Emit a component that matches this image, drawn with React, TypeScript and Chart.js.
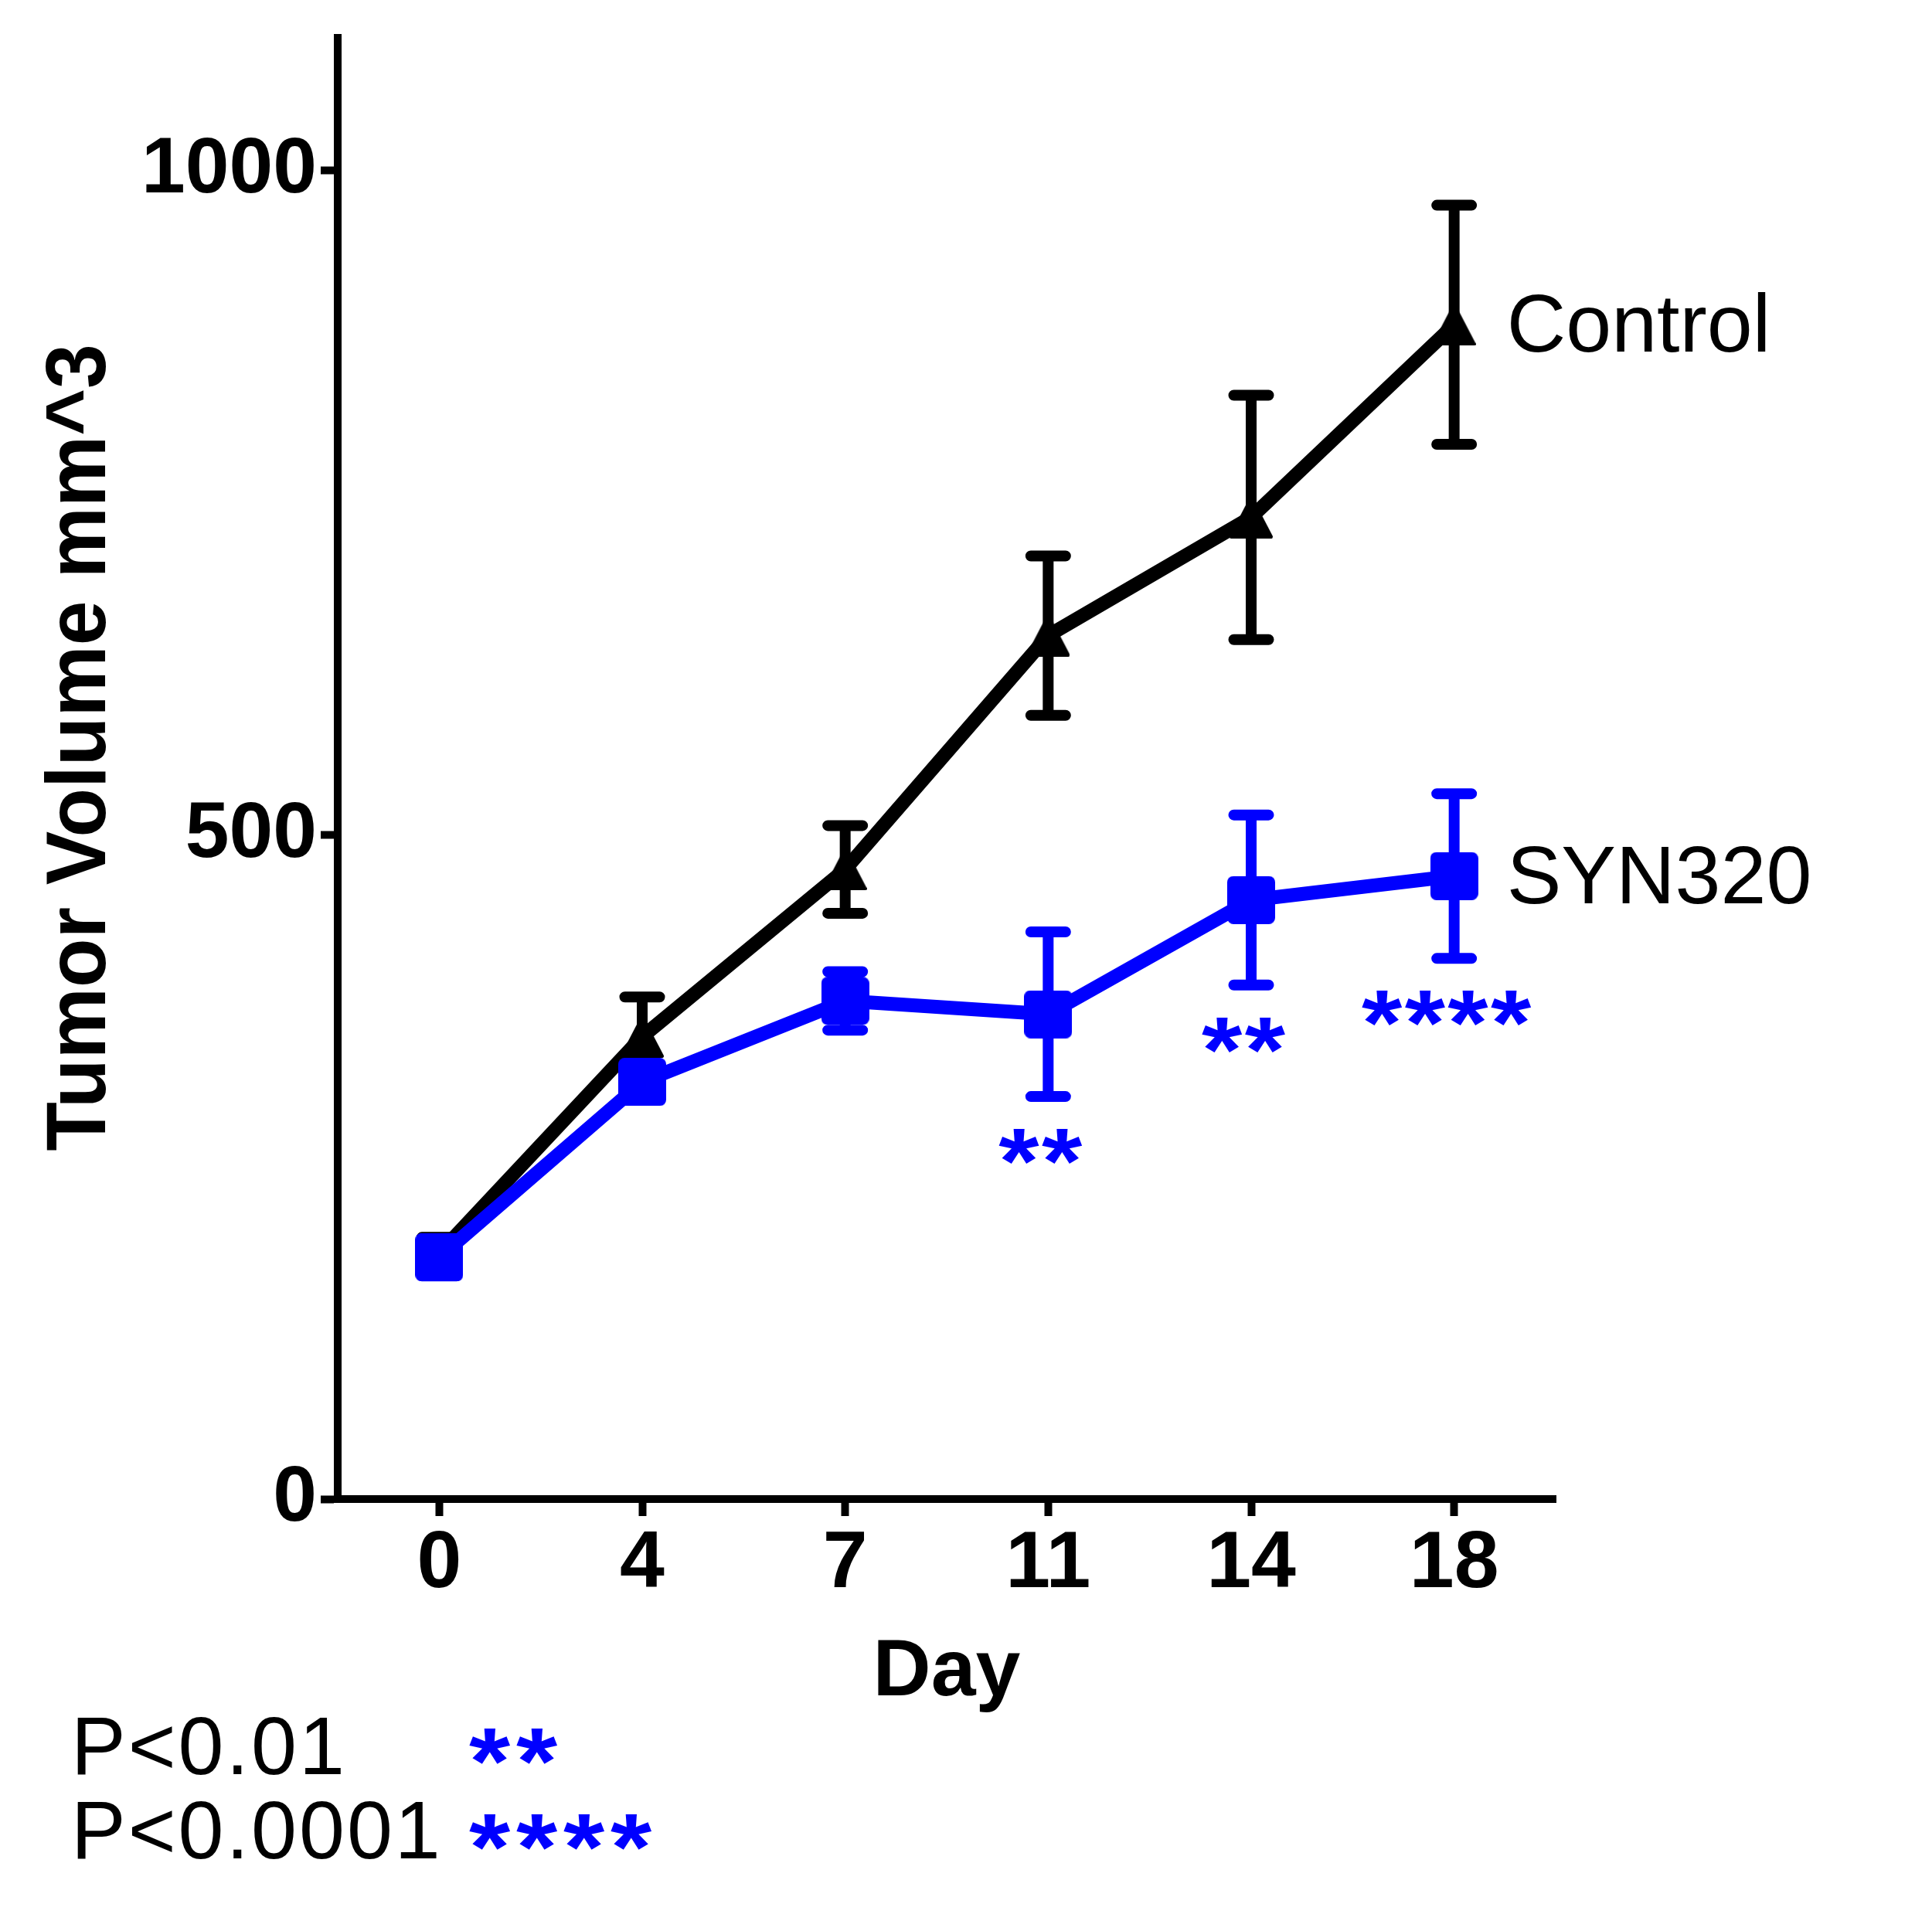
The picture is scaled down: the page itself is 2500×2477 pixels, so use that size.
import React, { useEffect, useRef } from 'react';
import { Chart, registerables } from 'chart.js';

Chart.register(...registerables);

// ---------------- data ----------------
const days = ['0', '4', '7', '11', '14', '18'];
const controlMean = [185, 348, 474, 650, 739, 884];
const controlSem = [12, 30, 33, 60, 92, 90];
const synMean = [182, 314, 375, 365, 451, 469];
const synSem = [14, 12, 22, 62, 64, 62];
const sigLabels = ['', '', '', '**', '**', '****'];
const yTickValues = [0, 500, 1000];
const seriesNames = ['Control', 'SYN320'];
const pThresholds = ['P<0.01', 'P<0.0001'];
const pStars = ['**', '****'];
const xTitle = 'Day';
const yTitle = 'Tumor Volume mm^3';

// ---------------- style ----------------
const FONT = "'Liberation Sans', Arial, sans-serif";
const BLACK = '#000000';
const BLUE = '#0000FF';

function makeTriangle(w: number, h: number, color: string) {
  const c = document.createElement('canvas');
  c.width = w;
  c.height = h;
  const ctx = c.getContext('2d')!;
  ctx.fillStyle = color;
  ctx.strokeStyle = color;
  ctx.lineJoin = 'round';
  ctx.lineWidth = 4;
  ctx.beginPath();
  ctx.moveTo(w / 2, 2);
  ctx.lineTo(w - 2, h - 2);
  ctx.lineTo(2, h - 2);
  ctx.closePath();
  ctx.fill();
  ctx.stroke();
  return c;
}

function makeSquare(s: number, r: number, color: string) {
  const c = document.createElement('canvas');
  c.width = s;
  c.height = s;
  const ctx = c.getContext('2d')!;
  ctx.fillStyle = color;
  ctx.beginPath();
  (ctx as any).roundRect(0, 0, s, s, r);
  ctx.fill();
  return c;
}

const errorBarPlugin = {
  id: 'errorBars',
  beforeDatasetDraw(chart: any, args: any) {
    const ds = chart.data.datasets[args.index];
    const errs: number[] = ds.errors;
    if (!errs) return;
    const yScale = chart.scales.y;
    const ctx = chart.ctx;
    ctx.save();
    ctx.strokeStyle = ds.borderColor;
    ctx.lineWidth = 14;
    ctx.lineCap = 'round';
    args.meta.data.forEach((pt: any, i: number) => {
      const v = ds.data[i];
      const e = errs[i];
      const yt = yScale.getPixelForValue(v + e);
      const yb = yScale.getPixelForValue(v - e);
      const x = pt.x;
      const half = 22.5;
      ctx.beginPath();
      ctx.moveTo(x, yt);
      ctx.lineTo(x, yb);
      ctx.moveTo(x - half, yt);
      ctx.lineTo(x + half, yt);
      ctx.moveTo(x - half, yb);
      ctx.lineTo(x + half, yb);
      ctx.stroke();
    });
    ctx.restore();
  },
};

function drawStretched(ctx: any, text: string, x: number, y: number, sx: number, spacing: number, align: 'left' | 'center') {
  ctx.save();
  ctx.letterSpacing = `${spacing}px`;
  ctx.textAlign = 'left';
  const w = (ctx.measureText(text).width - spacing) * sx;
  const left = align === 'center' ? x - w / 2 : x;
  ctx.translate(left, y);
  ctx.scale(sx, 1);
  ctx.fillText(text, 0, 0);
  ctx.restore();
}

const annotationPlugin = {
  id: 'annotations',
  afterDraw(chart: any) {
    const ctx = chart.ctx;
    const xs = chart.scales.x;
    const ys = chart.scales.y;
    const area = chart.chartArea;
    const last = days.length - 1;
    ctx.save();

    // series labels at the end of each line
    const xl = xs.getPixelForValue(last) + 68;
    ctx.font = `106px ${FONT}`;
    ctx.fillStyle = BLACK;
    ctx.textAlign = 'left';
    ctx.textBaseline = 'middle';
    ctx.fillText(seriesNames[0], xl, ys.getPixelForValue(controlMean[last]) + 5);
    ctx.fillText(seriesNames[1], xl, ys.getPixelForValue(synMean[last]) + 6);

    // significance stars under SYN320 error bars
    ctx.font = `bold 120px ${FONT}`;
    ctx.fillStyle = BLUE;
    ctx.textBaseline = 'alphabetic';
    sigLabels.forEach((s, i) => {
      if (!s) return;
      const px = xs.getPixelForValue(i) - 10;
      const py = ys.getPixelForValue(synMean[i] - synSem[i]) + 125;
      drawStretched(ctx, s, px, py, 1.12, 3, 'center');
    });

    // y-axis title
    ctx.save();
    ctx.translate(area.left - 331, (area.top + area.bottom) / 2 - 27);
    ctx.rotate(-Math.PI / 2);
    ctx.scale(0.945, 1);
    ctx.font = `bold 110px ${FONT}`;
    ctx.fillStyle = BLACK;
    ctx.textAlign = 'center';
    ctx.textBaseline = 'middle';
    ctx.fillText(yTitle, 0, 0);
    ctx.restore();

    // p-value key
    ctx.font = `106px ${FONT}`;
    ctx.fillStyle = BLACK;
    ctx.textBaseline = 'alphabetic';
    drawStretched(ctx, pThresholds[0], 92, 2296, 1, 3, 'left');
    drawStretched(ctx, pThresholds[1], 92, 2405, 1, 3, 'left');
    ctx.font = `bold 122px ${FONT}`;
    ctx.fillStyle = BLUE;
    drawStretched(ctx, pStars[0], 607, 2321, 1.12, 7, 'left');
    drawStretched(ctx, pStars[1], 607, 2432, 1.12, 7, 'left');

    ctx.restore();
  },
};

export default function App() {
  const ref = useRef<HTMLCanvasElement | null>(null);

  useEffect(() => {
    if (!ref.current) return;
    const tri = makeTriangle(56, 54, BLACK);
    const sq = makeSquare(62, 8, BLUE);

    const chart = new Chart(ref.current, {
      type: 'line',
      data: {
        labels: days,
        datasets: [
          {
            label: seriesNames[0],
            data: controlMean,
            errors: controlSem,
            borderColor: BLACK,
            backgroundColor: BLACK,
            borderWidth: 18,
            borderJoinStyle: 'round',
            borderCapStyle: 'round',
            pointStyle: tri,
            pointRadius: 28,
            tension: 0,
            order: 1,
          } as any,
          {
            label: seriesNames[1],
            data: synMean,
            errors: synSem,
            borderColor: BLUE,
            backgroundColor: BLUE,
            borderWidth: 18,
            borderJoinStyle: 'round',
            borderCapStyle: 'round',
            pointStyle: sq,
            pointRadius: 31,
            tension: 0,
            order: 0,
          } as any,
        ],
      },
      options: {
        responsive: false,
        animation: false,
        devicePixelRatio: 1,
        layout: { padding: { left: 0, right: 487, top: 49, bottom: 237 } },
        plugins: {
          legend: { display: false },
          tooltip: { enabled: false },
        },
        scales: {
          x: {
            type: 'category',
            offset: true,
            grid: {
              drawOnChartArea: false,
              drawTicks: true,
              tickLength: 22,
              tickWidth: 10,
              tickColor: BLACK,
              offset: false,
            },
            border: { display: true, color: BLACK, width: 10 },
            ticks: {
              color: BLACK,
              font: { family: FONT, size: 104, weight: 'bold', lineHeight: 1 },
              padding: 11,
              maxRotation: 0,
              autoSkip: false,
            },
            title: {
              display: true,
              text: xTitle,
              color: BLACK,
              font: { family: FONT, size: 104, weight: 'bold' },
              padding: { top: 0, bottom: 12 },
            },
            afterFit(s: any) {
              s.height = 300;
            },
          },
          y: {
            type: 'linear',
            min: 0,
            max: 1100,
            afterBuildTicks(s: any) {
              s.ticks = yTickValues.map((v) => ({ value: v }));
            },
            grid: {
              drawOnChartArea: false,
              drawTicks: true,
              tickLength: 22,
              tickWidth: 10,
              tickColor: BLACK,
            },
            border: { display: true, color: BLACK, width: 10 },
            ticks: {
              color: BLACK,
              font: { family: FONT, size: 102, weight: 'bold', lineHeight: 0.5 },
              padding: 5,
              callback: (v: any) => String(v),
            },
            title: { display: false },
            afterFit(s: any) {
              s.width = 437;
            },
          },
        },
      } as any,
      plugins: [errorBarPlugin, annotationPlugin],
    });

    return () => chart.destroy();
  }, []);

  return (
    <div style={{ position: 'absolute', left: 0, top: 0, width: 2500, height: 2477, background: '#fff' }}>
      <canvas ref={ref} width={2500} height={2477} style={{ display: 'block', width: 2500, height: 2477 }} />
    </div>
  );
}
